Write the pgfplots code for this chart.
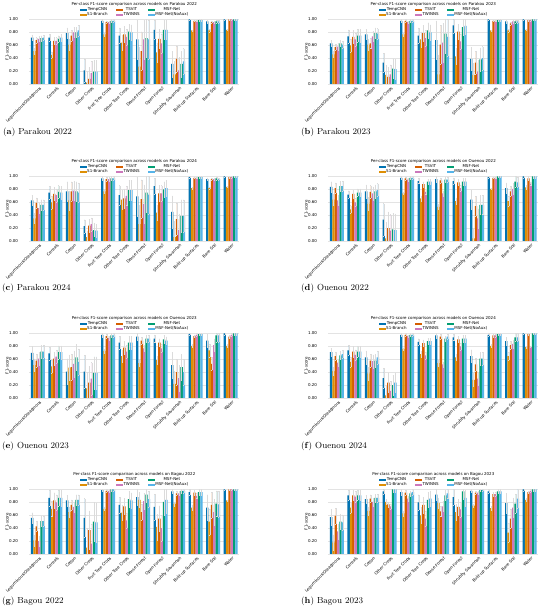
\documentclass[border=0pt]{standalone}
\usepackage{pgfplots}
\usepackage{pgfplotstable}
\pgfplotsset{compat=1.18}
\usepackage{fontspec}
\newfontfamily\dv{DejaVu Sans}
\newcommand\cf{\dv\fontsize{4.0bp}{4.6bp}\selectfont}
\newcommand\capf{\fontsize{8.8bp}{10bp}\selectfont}
\definecolor{cT}{HTML}{0173B2}
\definecolor{cS}{HTML}{DE8F05}
\definecolor{cV}{HTML}{D55E00}
\definecolor{cW}{HTML}{CC78BC}
\definecolor{cM}{HTML}{029E73}
\definecolor{cN}{HTML}{56B4E9}

% columns: TempCNN S1-Branch TSViT TWINNS MSF-Net MSF-Net(NoAux), E = error half-length (estimated)
\pgfplotstableread{
T S V W M N E
0.72 0.51 0.68 0.70 0.71 0.72 0.04
0.72 0.45 0.67 0.67 0.70 0.72 0.05
0.79 0.61 0.75 0.80 0.80 0.83 0.08
0.21 0.02 0.08 0.17 0.19 0.19 0.18
0.98 0.77 0.96 0.96 0.98 0.98 0.02
0.75 0.64 0.77 0.73 0.81 0.80 0.12
0.69 0.27 0.51 0.69 0.71 0.69 0.30
0.84 0.49 0.70 0.63 0.84 0.84 0.15
0.31 0.15 0.39 0.21 0.31 0.35 0.20
1.00 0.83 0.98 0.98 0.99 0.99 0.01
0.97 0.83 0.96 0.96 0.97 0.97 0.02
1.00 0.84 1.00 1.00 1.00 1.00 0.01
}\tPa
\pgfplotstableread{
T S V W M N E
0.63 0.46 0.57 0.58 0.63 0.61 0.05
0.74 0.60 0.73 0.69 0.75 0.75 0.10
0.77 0.61 0.63 0.74 0.79 0.78 0.08
0.33 0.14 0.11 0.15 0.24 0.23 0.15
0.98 0.77 0.98 0.96 0.98 0.98 0.02
0.75 0.69 0.79 0.71 0.83 0.80 0.12
0.68 0.15 0.61 0.64 0.78 0.73 0.30
0.91 0.43 0.81 0.66 0.88 0.90 0.12
0.39 0.14 0.33 0.19 0.38 0.40 0.18
1.00 0.83 0.98 0.98 0.99 0.99 0.01
0.97 0.83 0.94 0.97 0.97 0.97 0.02
1.00 0.84 0.99 0.99 1.00 1.00 0.01
}\tPb
\pgfplotstableread{
T S V W M N E
0.63 0.35 0.59 0.51 0.56 0.56 0.08
0.75 0.60 0.73 0.71 0.76 0.75 0.10
0.77 0.63 0.77 0.78 0.77 0.75 0.15
0.23 0.06 0.24 0.26 0.17 0.16 0.10
0.97 0.77 0.96 0.96 0.97 0.97 0.03
0.71 0.64 0.66 0.70 0.79 0.79 0.15
0.69 0.26 0.65 0.57 0.75 0.72 0.30
0.85 0.44 0.74 0.74 0.80 0.82 0.12
0.45 0.06 0.34 0.17 0.39 0.39 0.25
0.99 0.82 0.98 0.98 0.99 0.99 0.01
0.96 0.82 0.96 0.96 0.97 0.96 0.02
1.00 0.84 0.99 0.99 1.00 1.00 0.01
}\tPc
\pgfplotstableread{
T S V W M N E
0.84 0.64 0.82 0.63 0.85 0.85 0.08
0.72 0.49 0.73 0.60 0.75 0.75 0.06
0.77 0.58 0.76 0.74 0.77 0.79 0.10
0.33 0.04 0.20 0.16 0.18 0.17 0.25
0.98 0.74 0.97 0.95 0.98 0.98 0.02
0.93 0.66 0.88 0.76 0.92 0.92 0.04
0.96 0.53 0.94 0.74 0.95 0.95 0.04
0.93 0.62 0.91 0.82 0.92 0.92 0.05
0.64 0.04 0.54 0.35 0.56 0.56 0.15
0.99 0.81 0.98 0.98 1.00 1.00 0.01
0.82 0.62 0.77 0.81 0.92 0.91 0.08
1.00 0.83 0.97 0.89 1.00 1.00 0.03
}\tOa
\pgfplotstableread{
T S V W M N E
0.70 0.51 0.58 0.61 0.72 0.72 0.10
0.69 0.49 0.61 0.64 0.71 0.71 0.10
0.41 0.47 0.48 0.53 0.63 0.56 0.20
0.41 0.15 0.24 0.30 0.39 0.39 0.25
0.98 0.73 0.96 0.93 0.97 0.97 0.03
0.86 0.65 0.78 0.72 0.86 0.86 0.10
0.95 0.54 0.89 0.77 0.92 0.92 0.05
0.92 0.59 0.86 0.77 0.91 0.89 0.06
0.51 0.22 0.40 0.31 0.48 0.40 0.20
0.99 0.81 0.96 0.98 0.99 0.99 0.02
0.89 0.74 0.53 0.82 0.97 0.97 0.10
1.00 0.81 0.95 0.98 1.00 1.00 0.02
}\tOb
\pgfplotstableread{
T S V W M N E
0.71 0.42 0.65 0.55 0.66 0.68 0.06
0.74 0.56 0.72 0.67 0.72 0.72 0.08
0.63 0.38 0.58 0.57 0.58 0.63 0.10
0.31 0.04 0.24 0.11 0.20 0.24 0.15
0.98 0.76 0.98 0.96 0.98 0.98 0.02
0.87 0.68 0.85 0.66 0.88 0.88 0.05
0.97 0.54 0.95 0.52 0.92 0.95 0.04
0.94 0.63 0.91 0.80 0.92 0.92 0.05
0.65 0.28 0.52 0.30 0.61 0.61 0.10
0.98 0.81 0.97 0.97 0.99 0.99 0.02
0.88 0.65 0.82 0.84 0.94 0.94 0.06
1.00 0.79 0.99 0.80 1.00 1.00 0.01
}\tOc
\pgfplotstableread{
T S V W M N E
0.56 0.21 0.43 0.20 0.51 0.51 0.08
0.87 0.70 0.83 0.80 0.87 0.87 0.12
0.83 0.65 0.76 0.73 0.84 0.84 0.08
0.56 0.10 0.37 0.16 0.50 0.49 0.30
0.99 0.70 0.98 0.98 1.00 1.00 0.02
0.76 0.64 0.74 0.52 0.85 0.83 0.12
0.88 0.84 0.65 0.82 0.92 0.85 0.12
0.73 0.42 0.55 0.40 0.81 0.84 0.20
0.97 0.78 0.94 0.94 0.98 0.98 0.03
0.96 0.72 0.95 0.90 0.96 0.96 0.04
0.72 0.50 0.76 0.65 0.78 0.77 0.20
1.00 0.83 1.00 1.00 1.00 1.00 0.01
}\tBa
\pgfplotstableread{
T S V W M N E
0.57 0.18 0.59 0.35 0.50 0.49 0.12
0.91 0.72 0.91 0.89 0.91 0.91 0.08
0.85 0.67 0.86 0.81 0.87 0.87 0.06
0.97 0.81 0.77 0.74 1.00 1.00 0.04
0.96 0.63 0.95 0.86 0.94 0.96 0.04
0.80 0.60 0.76 0.55 0.84 0.86 0.12
0.92 0.79 0.66 0.74 0.91 0.94 0.08
0.88 0.65 0.73 0.69 0.97 0.87 0.12
0.98 0.75 0.95 0.95 0.99 0.99 0.02
0.97 0.71 0.93 0.93 0.97 0.97 0.03
0.79 0.33 0.55 0.72 0.78 0.86 0.15
1.00 0.84 0.96 0.98 1.00 1.00 0.02
}\tBb

\pgfplotsset{
  bb/.style={ybar, bar width=0.13333, bar shift=0pt, draw=none, fill=#1,
    legend image code/.code={\fill[#1] (0bp,-1.2bp) rectangle (7bp,1.2bp);},
    error bars/y dir=both, error bars/y explicit,
    error bars/error bar style={draw=gray!28, line width=0.22bp},
    error bars/error mark options={draw=gray!28, line width=0.22bp, mark size=0.5bp, rotate=90}},
  pstyle/.style={
    scale only axis, width=210.2bp, height=64.5bp, anchor=south west,
    xmin=-0.5, xmax=11.5, ymin=0, ymax=1,
    axis line style={draw=none}, major tick length=0,
    ymajorgrids, grid style={gray!22, line width=0.3bp},
    ytick={0,0.2,0.4,0.6,0.8,1},
    /pgf/number format/fixed, /pgf/number format/fixed zerofill,
    /pgf/number format/precision=2, /pgf/number format/assume math mode=true,
    yticklabel style={font=\cf, anchor=east, xshift=-10.5bp, inner sep=0.5bp},
    xtick={0,...,11},
    xticklabels={Leguminous/Oleaginous,Cereals,Cotton,Other Crops,Fruit Tree Crops,Other Tree Crops,Dense Forest,Open Forest,Shrubby Savannah,Built-up Surfaces,Bare Soil,Water},
    xticklabel style={font=\cf, rotate=45, anchor=north east, inner sep=0.5bp, yshift=-2bp},
    ylabel={F1-score},
    ylabel style={font=\cf, at={(axis description cs:0,0.5)}, anchor=center, yshift=22bp},
    title style={font=\cf, at={(axis description cs:0.5,1)}, anchor=center, yshift=9bp},
    legend style={font=\cf, at={(0.5,1)}, anchor=south, yshift=-0.5bp, draw=none, fill=none,
      legend columns=3, /tikz/every even column/.append style={column sep=8bp},
      nodes={inner sep=0.4bp}, row sep=0pt},
  }
}

\newcommand{\panel}[4]{%
\begin{axis}[pstyle, at={(#3bp,#4bp)}, title={Per-class F1-score comparison across models on #2}]
\addplot[bb=cT] table[x expr=\coordindex-0.33333, y=T, y error=E] {#1};
\addplot[bb=cV] table[x expr=\coordindex-0.06667, y=V, y error=E] {#1};
\addplot[bb=cM] table[x expr=\coordindex+0.2, y=M, y error=E] {#1};
\addplot[bb=cS] table[x expr=\coordindex-0.2, y=S, y error=E] {#1};
\addplot[bb=cW] table[x expr=\coordindex+0.06667, y=W, y error=E] {#1};
\addplot[bb=cN] table[x expr=\coordindex+0.33333, y=N, y error=E] {#1};
\legend{TempCNN,TSViT,MSF-Net,S1-Branch,TWINNS,MSF-Net(NoAux)}
\end{axis}}

\begin{document}
\begin{tikzpicture}
\useasboundingbox (0,0) rectangle (550bp,610bp);
\fill[white] (0,0) rectangle (550bp,610bp);
\panel{\tPa}{Parakou 2022}{29.2}{526}
\panel{\tPb}{Parakou 2023}{328.2}{526}
\panel{\tPc}{Parakou 2024}{29.2}{369}
\panel{\tOa}{Ouenou 2022}{328.2}{369}
\panel{\tOb}{Ouenou 2023}{29.2}{212}
\panel{\tOc}{Ouenou 2024}{328.2}{212}
\panel{\tBa}{Bagou 2022}{29.2}{56}
\panel{\tBb}{Bagou 2023}{328.2}{56}
\node[anchor=west, inner sep=0] at (3bp,478bp) {\capf(\textbf{a}) Parakou 2022};
\node[anchor=west, inner sep=0] at (301bp,478bp) {\capf(\textbf{b}) Parakou 2023};
\node[anchor=west, inner sep=0] at (2bp,322bp) {\capf(\textbf{c}) Parakou 2024};
\node[anchor=west, inner sep=0] at (301bp,322bp) {\capf(\textbf{d}) Ouenou 2022};
\node[anchor=west, inner sep=0] at (2bp,164bp) {\capf(\textbf{e}) Ouenou 2023};
\node[anchor=west, inner sep=0] at (301bp,164bp) {\capf(\textbf{f}) Ouenou 2024};
\node[anchor=west, inner sep=0] at (2bp,9bp) {\capf(\textbf{g}) Bagou 2022};
\node[anchor=west, inner sep=0] at (301bp,9bp) {\capf(\textbf{h}) Bagou 2023};
\end{tikzpicture}
\end{document}
